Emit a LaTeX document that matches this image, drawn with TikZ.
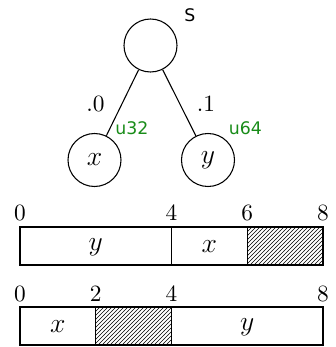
\documentclass[tikz,border=0pt]{standalone}
\usepackage{fontspec}
\setsansfont{DejaVu Sans}
\usetikzlibrary{patterns}
\definecolor{typegreen}{rgb}{0.1,0.55,0.1}
\newcommand{\numtext}[1]{\scalebox{1.75}{#1}}

\begin{document}
\begin{tikzpicture}[x=0.75pt, y=-0.75pt, line width=0.8pt,
    vertex/.style={circle, draw, minimum size=39.75pt, inner sep=0pt, font=\fontsize{21}{24}\selectfont},
    cell/.style={draw},
    gap/.style={draw, pattern=north east lines},
    numlabel/.style={inner sep=1pt, font=\fontsize{10}{12}\selectfont},
    varlabel/.style={inner sep=1pt, font=\fontsize{20}{23}\selectfont},
    tlabel/.style={font=\sffamily\fontsize{13}{15}\selectfont, text=typegreen}]
    \useasboundingbox (0,0) rectangle (336,347);

    % tree
    \node[vertex] (s) at (150.5,45.5) {};
    \node[vertex] (x) at (94.5,160) {$x$};
    \node[vertex] (y) at (208,160) {$y$};
    \draw (s) -- (x);
    \draw (s) -- (y);
    \node[font=\sffamily\fontsize{13}{15}\selectfont] (sname) at (190,15.5) {S};
    \node[numlabel] (e0) at (95.5,104) {\numtext{.0}};
    \node[numlabel] (e1) at (206,104) {\numtext{.1}};
    \node[tlabel] (t0) at (132,128.5) {u32};
    \node[tlabel] (t1) at (245.5,128.5) {u64};

    % layout 1
    \draw[cell] (20,227) rectangle (171.5,265);
    \draw[cell] (171.5,227) rectangle (247.25,265);
    \draw[gap] (247.25,227) rectangle (323,265);
    \node[varlabel] (a1) at (95.75,247) {$y$};
    \node[varlabel] (a2) at (209.4,247) {$x$};
    \foreach \p/\v in {20/0, 171.5/4, 247.25/6, 323/8}
        \node[numlabel] at (\p,213) {\numtext{\v}};

    % layout 2
    \draw[cell] (20,307) rectangle (95.75,345);
    \draw[gap] (95.75,307) rectangle (171.5,345);
    \draw[cell] (171.5,307) rectangle (323,345);
    \node[varlabel] (b1) at (57.9,327) {$x$};
    \node[varlabel] (b2) at (247.25,327) {$y$};
    \foreach \p/\v in {20/0, 95.75/2, 171.5/4, 323/8}
        \node[numlabel] at (\p,294) {\numtext{\v}};
\end{tikzpicture}
\end{document}
